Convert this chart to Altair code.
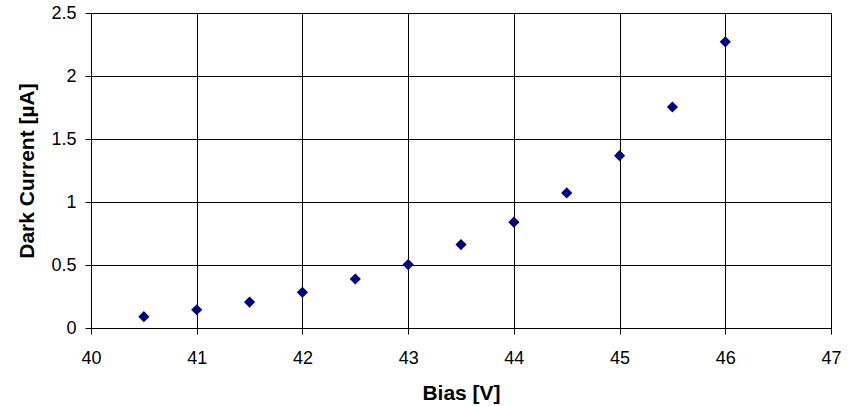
import altair as alt
import pandas as pd

bias = [40.5, 41.0, 41.5, 42.0, 42.5, 43.0, 43.5, 44.0, 44.5, 45.0, 45.5, 46.0]
current = [0.09, 0.145, 0.206, 0.283, 0.389, 0.503, 0.662, 0.84, 1.072, 1.368, 1.754, 2.271]
x_ticks = [40, 41, 42, 43, 44, 45, 46, 47]
y_ticks = [0, 0.5, 1, 1.5, 2, 2.5]

df = pd.DataFrame({"bias": bias, "current": current})

FONT = "Liberation Sans"

chart = alt.Chart(df).mark_point(
    shape="diamond", filled=True, color="#000080", size=125, opacity=1
).encode(
    x=alt.X("bias:Q", scale=alt.Scale(domain=[40, 47], nice=False, zero=False),
            axis=alt.Axis(title="Bias [V]", values=x_ticks, format="d",
                          labelOverlap=False, labelFlush=False)),
    y=alt.Y("current:Q", scale=alt.Scale(domain=[0, 2.5], nice=False),
            axis=alt.Axis(title="Dark Current [\u00b5A]", values=y_ticks,
                          labelOverlap=False, labelFlush=False,
                          labelExpr="datum.value == 0 ? '0' : format(datum.value, '.1~f')")),
).properties(
    width=740, height=315,
    autosize=alt.AutoSizeParams(type="none"),
    padding={"left": 91, "top": 13, "right": 23, "bottom": 78},
).configure_view(
    stroke="#808080", strokeWidth=1
).configure_axis(
    domainColor="#000000", domainWidth=1,
    gridColor="#000000", gridWidth=1, gridOpacity=1,
    tickColor="#000000", tickSize=6, tickWidth=1,
    labelFont=FONT, labelFontSize=18, labelColor="#000000",
    titleFont=FONT, titleFontSize=21, titleFontWeight="bold", titleColor="#000000",
).configure_axisX(
    labelPadding=15, titlePadding=15
).configure_axisY(
    labelPadding=9, titlePadding=13
)

chart.save("out.html", embed_options={"renderer": "svg", "actions": False})
